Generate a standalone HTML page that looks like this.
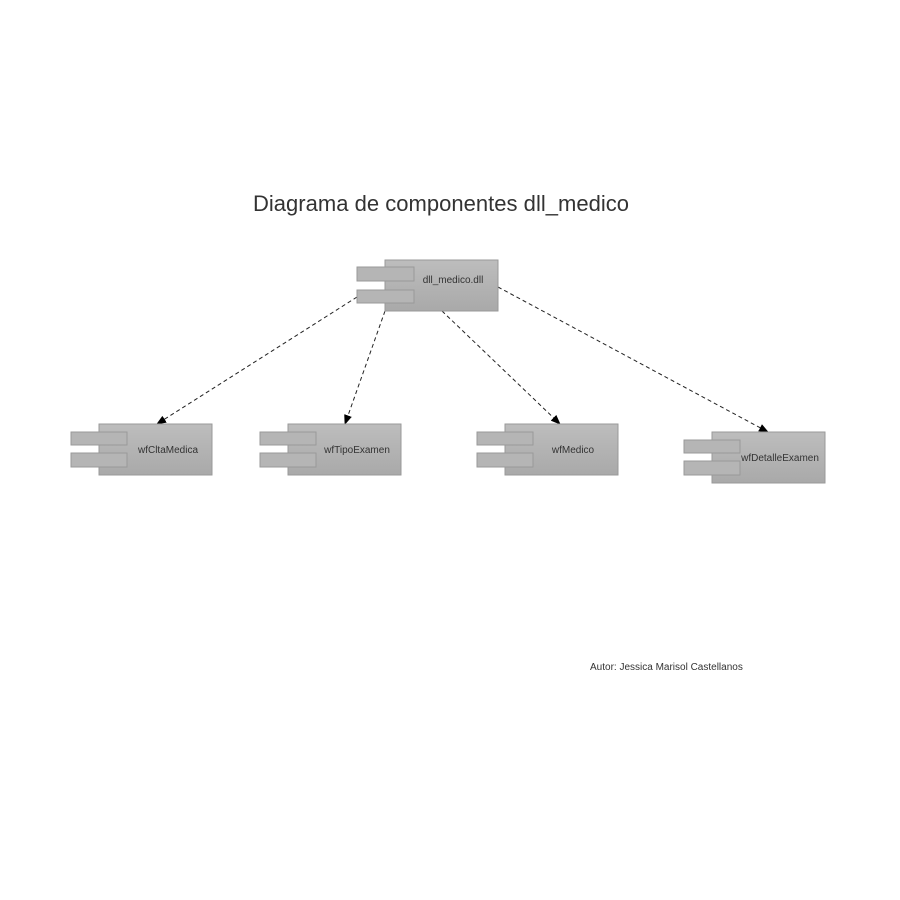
<!DOCTYPE html>
<html><head><meta charset="utf-8"><style>
html,body{margin:0;padding:0;background:#fff;}
svg{display:block;font-family:"Liberation Sans",Arial,sans-serif;}
</style></head><body>
<svg width="900" height="900" viewBox="0 0 900 900" xmlns="http://www.w3.org/2000/svg">
<defs>
<linearGradient id="g" x1="0" y1="0" x2="0" y2="1">
<stop offset="0" stop-color="#bdbdbd"/><stop offset="1" stop-color="#a9a9a9"/>
</linearGradient>
<marker id="a" markerWidth="10" markerHeight="8" refX="9" refY="4" orient="auto" markerUnits="userSpaceOnUse">
<path d="M0,0 L10,4 L0,8 z" fill="#000"/>
</marker>
</defs>
<text x="253" y="211" font-size="22" fill="#333" textLength="376">Diagrama de componentes dll_medico</text>

<g stroke="#222" stroke-width="1" stroke-dasharray="4,3" fill="none">
<line x1="357" y1="297" x2="157" y2="424" marker-end="url(#a)"/>
<line x1="385" y1="311" x2="345" y2="424" marker-end="url(#a)"/>
<line x1="442" y1="311" x2="560" y2="424" marker-end="url(#a)"/>
<line x1="498" y1="287" x2="768" y2="432" marker-end="url(#a)"/>
</g>

<g font-size="10" fill="#333" text-anchor="middle">
<!-- dll -->
<rect x="385" y="260" width="113" height="51" fill="url(#g)" stroke="#999"/>
<rect x="357" y="267" width="57" height="14" fill="#b5b5b5" stroke="#999"/>
<rect x="357" y="290" width="57" height="13" fill="#b5b5b5" stroke="#999"/>
<text x="453" y="283">dll_medico.dll</text>

<rect x="99" y="424" width="113" height="51" fill="url(#g)" stroke="#999"/>
<rect x="71" y="432" width="56" height="13" fill="#b5b5b5" stroke="#999"/>
<rect x="71" y="453" width="56" height="14" fill="#b5b5b5" stroke="#999"/>
<text x="168" y="453">wfCltaMedica</text>

<rect x="288" y="424" width="113" height="51" fill="url(#g)" stroke="#999"/>
<rect x="260" y="432" width="56" height="13" fill="#b5b5b5" stroke="#999"/>
<rect x="260" y="453" width="56" height="14" fill="#b5b5b5" stroke="#999"/>
<text x="357" y="453">wfTipoExamen</text>

<rect x="505" y="424" width="113" height="51" fill="url(#g)" stroke="#999"/>
<rect x="477" y="432" width="56" height="13" fill="#b5b5b5" stroke="#999"/>
<rect x="477" y="453" width="56" height="14" fill="#b5b5b5" stroke="#999"/>
<text x="573" y="453">wfMedico</text>

<rect x="712" y="432" width="113" height="51" fill="url(#g)" stroke="#999"/>
<rect x="684" y="440" width="56" height="13" fill="#b5b5b5" stroke="#999"/>
<rect x="684" y="461" width="56" height="14" fill="#b5b5b5" stroke="#999"/>
<text x="780" y="461">wfDetalleExamen</text>
</g>

<text x="590" y="670" font-size="10" fill="#333">Autor: Jessica Marisol Castellanos</text>
</svg>
</body></html>
